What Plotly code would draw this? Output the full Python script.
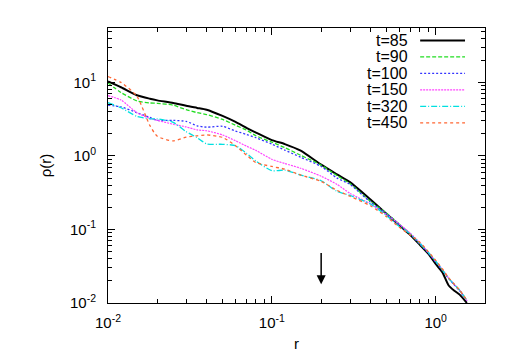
import numpy as np
import plotly.graph_objects as go

# rayon (echelle log), grille commune pour toutes les courbes
r = [0.01, 0.012, 0.015, 0.018, 0.02, 0.025, 0.03, 0.035, 0.04, 0.05, 0.06,
     0.07, 0.08, 0.1, 0.12, 0.15, 0.2, 0.25, 0.3, 0.4, 0.5, 0.6, 0.7, 0.8,
     0.9, 1.0, 1.1, 1.2, 1.3, 1.4, 1.55]

rho_t85 = [10.3, 8.6, 6.7, 6.0, 5.7, 5.26, 4.8, 4.5, 4.25, 3.5, 2.9,
           2.4, 2.08, 1.64, 1.45, 1.18, 0.76, 0.56, 0.44, 0.255, 0.164, 0.114, 0.084, 0.062,
           0.047, 0.034, 0.026, 0.0173, 0.0147, 0.013, 0.0100]
rho_t90 = [9.8, 7.3, 5.6, 5.26, 5.2, 4.9, 4.25, 3.88, 3.66, 3.14, 2.61,
           2.25, 1.88, 1.54, 1.3, 1.02, 0.75, 0.54, 0.42, 0.24, 0.167, 0.118, 0.087, 0.064,
           0.049, 0.037, 0.028, 0.0218, 0.0178, 0.0150, 0.0108]
rho_t100 = [4.9, 4.66, 3.88, 3.34, 3.05, 3.05, 2.95, 2.57, 2.46, 2.53, 2.18,
            1.96, 1.77, 1.45, 1.2, 0.96, 0.72, 0.5, 0.41, 0.235, 0.165, 0.117, 0.086, 0.063,
            0.048, 0.036, 0.0278, 0.0215, 0.0176, 0.0147, 0.0107]
rho_t150 = [6.6, 5.77, 3.88, 3.24, 3.05, 2.7, 2.48, 2.26, 2.2, 1.93, 1.61,
            1.36, 1.19, 0.9, 0.79, 0.68, 0.53, 0.41, 0.31, 0.222, 0.16, 0.118, 0.089, 0.066,
            0.049, 0.037, 0.0285, 0.0218, 0.0178, 0.0149, 0.0108]
rho_t320 = [5.3, 4.52, 3.45, 3.2, 3.2, 2.86, 2.14, 1.77, 1.46, 1.44, 1.38,
            1.09, 0.85, 0.63, 0.64, 0.55, 0.46, 0.33, 0.29, 0.222, 0.155, 0.11, 0.087, 0.065,
            0.049, 0.037, 0.0282, 0.0216, 0.0178, 0.0149, 0.0108]
rho_t450 = [12.0, 10.0, 6.5, 2.6, 1.85, 1.6, 1.8, 1.88, 1.93, 1.79, 1.38,
            1.03, 0.81, 0.72, 0.66, 0.55, 0.45, 0.34, 0.283, 0.21, 0.15, 0.107, 0.084, 0.067,
            0.050, 0.038, 0.029, 0.0220, 0.0180, 0.0150, 0.0109]

noms = ["t=85", "t=90", "t=100", "t=150", "t=320", "t=450"]
series = [rho_t85, rho_t90, rho_t100, rho_t150, rho_t320, rho_t450]
couleurs = ["#000000", "#22dd22", "#3333ff", "#ff44ff", "#00e0e0", "#ff6633"]
tirets = ["solid", "4px,2px", "2px,2px", "2px,1px", "6px,2px,1px,2px", "3px,3px"]
epaisseurs = [2, 1.3, 1.3, 1.2, 1.3, 1.3]

# fleche (r, debut, fin)
fleche_r = 0.2
fleche_haut = 0.05
fleche_bas = 0.018

police = "Liberation Sans, Arial, sans-serif"

fig = go.Figure()
for nom, rho, c, d, w in zip(noms, series, couleurs, tirets, epaisseurs):
    fig.add_trace(go.Scatter(x=r, y=rho, mode="lines", name=nom,
                             line=dict(color=c, dash=d, width=w, shape="spline", smoothing=0.6),
                             showlegend=False))

# legende facon gnuplot : texte a gauche, echantillon a droite
for i, (nom, c, d, w) in enumerate(zip(noms, couleurs, tirets, epaisseurs)):
    yp = 0.955 - i * 0.06
    fig.add_annotation(x=0.801, y=yp, xref="paper", yref="paper", text=nom, showarrow=False,
                       xanchor="right", yanchor="middle", font=dict(family=police, size=16, color="black"))
    fig.add_shape(type="line", xref="paper", yref="paper", x0=0.828, x1=0.947, y0=yp, y1=yp,
                  line=dict(color=c, dash=d, width=w))

fig.add_annotation(x=np.log10(fleche_r), y=np.log10(fleche_bas),
                   ax=np.log10(fleche_r), ay=np.log10(fleche_haut),
                   xref="x", yref="y", axref="x", ayref="y",
                   showarrow=True, arrowhead=2, arrowsize=1.2, arrowwidth=1.5, arrowcolor="black", text="")

axe = dict(type="log", showline=True, linecolor="black", linewidth=1, mirror="ticks",
           ticks="inside", ticklen=7, tickcolor="black", showgrid=False, zeroline=False,
           tickfont=dict(family=police, size=15, color="black"),
           minor=dict(ticks="inside", ticklen=4, tickcolor="black", dtick="D1", showgrid=False))

fig.update_layout(
    width=506, height=354,
    margin=dict(l=100, r=29, t=20, b=51),
    paper_bgcolor="white", plot_bgcolor="white",
    font=dict(family=police, size=15, color="black"),
    xaxis=dict(axe, range=[-2, np.log10(2)], tickvals=[0.01, 0.1, 1],
               ticktext=["10<sup>-2</sup>", "10<sup>-1</sup>", "10<sup>0</sup>"],
               ticklabelstandoff=6,
               title=dict(text="r", font=dict(family=police, size=15), standoff=8)),
    yaxis=dict(axe, range=[-2, 1.74], tickvals=[0.01, 0.1, 1, 10],
               ticktext=["10<sup>-2</sup>", "10<sup>-1</sup>", "10<sup>0</sup>", "10<sup>1</sup>"],
               ticklabelstandoff=8,
               title=dict(text="ρ(r)", font=dict(family=police, size=15), standoff=14)),
)

fig.write_html("out.html")
